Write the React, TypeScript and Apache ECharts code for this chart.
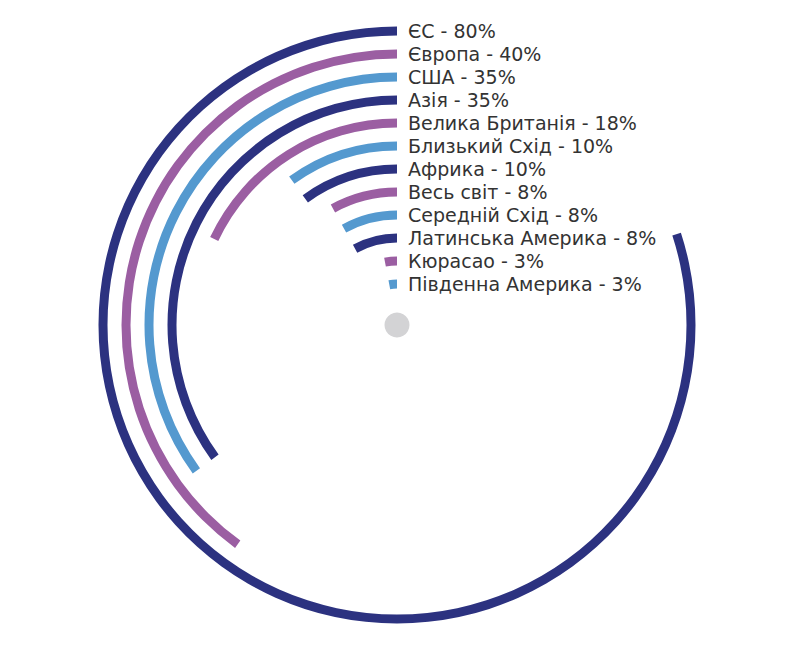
import React, { useEffect, useRef } from "react";
import * as echarts from "echarts";

const categories = [
  "ЄС", "Європа", "США", "Азія", "Велика Британія", "Близький Схід",
  "Африка", "Весь світ", "Середній Схід", "Латинська Америка", "Кюрасао", "Південна Америка",
];
const values = [80, 40, 35, 35, 18, 10, 10, 8, 8, 8, 3, 3];
const palette = ["#2c3280", "#9b5ea2", "#5499cf"];

export default function App() {
  const ref = useRef<HTMLDivElement>(null);
  useEffect(() => {
    const chart = echarts.init(ref.current!, undefined, { renderer: "svg" });
    chart.setOption({
      animation: false,
      polar: { center: [397, 325], radius: [29.5, 305.5] },
      angleAxis: {
        type: "value", min: 0, max: 100, startAngle: 90, clockwise: false,
        show: false,
      },
      radiusAxis: {
        type: "category", data: categories, inverse: true,
        axisLine: { show: false }, axisTick: { show: false }, splitLine: { show: false },
        axisLabel: {
          show: true, margin: -11, interval: 0, align: "left",
          formatter: (v: string, i: number) => `${v} - ${values[i]}%`,
          color: "#333333", fontSize: 19, fontFamily: "DejaVu Sans",
        },
      },
      series: [
        {
          type: "bar", coordinateSystem: "polar", barWidth: 9,
          data: values.map((v, i) => ({ value: v, itemStyle: { color: palette[i % 3] } })),
        },
        {
          type: "pie", center: [397, 325], radius: [0, 12.5], silent: true,
          label: { show: false }, itemStyle: { color: "#d3d3d5" }, data: [1],
        },
      ],
    });
    return () => chart.dispose();
  }, []);
  return <div ref={ref} style={{ position: "absolute", left: 0, top: 0, width: 789, height: 646 }} />;
}
